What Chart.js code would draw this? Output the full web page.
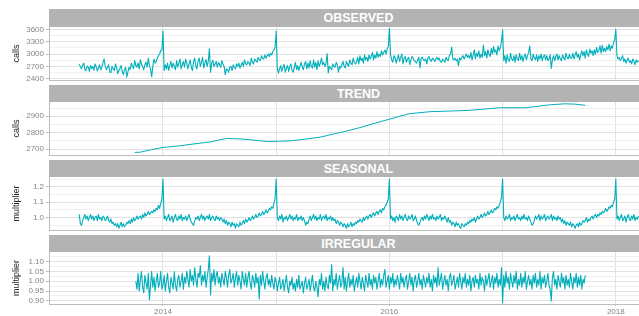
<!DOCTYPE html>
<html>
<head>
<meta charset="utf-8">
<script src="https://cdn.jsdelivr.net/npm/chart.js@4/dist/chart.umd.min.js"></script>
<style>
  body { margin: 0; overflow: hidden; background: #fff; }
  #wrap { position: relative; width: 668px; height: 316px; }
  .strip {
    position: absolute; left: 49px; width: 619px; height: 17px;
    background: #b3b3b3; color: #fff; text-align: center;
    font: bold 12.5px 'Liberation Sans', Arial, sans-serif; line-height: 18px;
  }
  canvas { position: absolute; left: 0; }
</style>
</head>
<body>
<div id="wrap">
  <div class="strip" style="top:9px;height:18px;line-height:19px">OBSERVED</div>
  <canvas id="obs" width="668" height="54" style="top:27px"></canvas>
  <div class="strip" style="top:85px">TREND</div>
  <canvas id="trend" width="668" height="54" style="top:102px"></canvas>
  <div class="strip" style="top:160px">SEASONAL</div>
  <canvas id="seas" width="668" height="54" style="top:177px"></canvas>
  <div class="strip" style="top:235px">IRREGULAR</div>
  <canvas id="irr" width="668" height="66" style="top:252px"></canvas>
</div>
<script>
// time axis: decimal years, one value every 1/100 year
const obsStart = 2013.26;
const irrStart = 2013.76;
const step = 0.01;
const yearLines = [2013, 2014, 2015, 2016, 2017, 2018];
const yearLabels = [2014, 2016, 2018];

const observed = [
  // 2013
  2760, 2700, 2640, 2730, 2780, 2620, 2600, 2710, 2680, 2580,
  2720, 2650, 2700, 2610, 2760, 2690, 2590, 2660, 2740, 2620,
  2680, 2790, 2880, 2700, 2620, 2680, 2740, 2560, 2550, 2700,
  2640, 2600, 2760, 2680, 2520, 2600, 2650, 2720, 2580, 2500,
  2620, 2680, 2440, 2560, 2680, 2620, 2780, 2700, 2650, 2840,
  2720, 2680, 2780, 2640, 2860, 2760, 2700, 2620, 2740, 2800,
  2680, 2900, 2720, 2640, 2450, 2700, 2880, 2780, 2820, 2900,
  2960, 3000, 3080, 3100,
  3560,
  // 2014
  2600, 2740, 2640, 2780, 2600, 2720, 2820, 2660, 2780, 2700,
  2620, 2840, 2680, 2780, 2880, 2640, 2740, 2820, 2680, 2880,
  2780, 2640, 2760, 2860, 2680, 2600, 2820, 2900, 2700, 2640,
  2840, 2900, 2700, 2800, 2920, 2660, 2780, 2870, 2700, 2820,
  3130, 2560, 2780, 2850, 2700, 2760, 2820, 2680, 2800, 2740,
  2680, 2840, 2760, 2700, 2500, 2640, 2620, 2560, 2680, 2700,
  2600, 2740, 2680, 2640, 2760, 2700, 2780, 2660, 2720, 2800,
  2700, 2860, 2760, 2740, 2820, 2780, 2720, 2900, 2800, 2760,
  2880, 2840, 2800, 2920, 2860, 2840, 2960, 2900, 2880, 2980,
  2900, 2960, 3000, 2940, 3020, 2980, 3060, 3100, 3150,
  3560,
  // 2015
  2640, 2540, 2640, 2720, 2580, 2680, 2750, 2560, 2660, 2720,
  2580, 2700, 2760, 2600, 2560, 2680, 2800, 2620, 2720, 2600,
  2700, 2800, 2680, 2620, 2760, 2820, 2640, 2780, 2660, 2840,
  2700, 2660, 2860, 2680, 2800, 2620, 2840, 2700, 2780, 2900,
  2740, 2800, 2700, 2760, 3010, 2540, 2700, 2660, 2620, 2760,
  2700, 2680, 2800, 2740, 2560, 2700, 2660, 2740, 2820, 2700,
  2660, 2820, 2760, 2700, 2860, 2780, 2740, 2900, 2800, 2760,
  2800, 2920, 2760, 2960, 2840, 2900, 2780, 2980, 2860, 2920,
  2820, 2980, 2880, 2940, 3040, 2860, 2980, 2900, 3060, 2920,
  3000, 2940, 3080, 2980, 3040, 3100, 3000, 3120, 3180,
  3625,
  // 2016
  2980, 2860, 2800, 2960, 2920, 2780, 2880, 2980, 2820, 2920,
  3000, 2760, 2900, 2940, 2800, 2880, 2920, 2740, 2860, 2940,
  2900, 2840, 2820, 2780, 2860, 2920, 2660, 2900, 2920, 2860,
  2840, 2880, 2760, 2900, 2940, 2860, 2820, 2900, 2880, 2820,
  2880, 2920, 2860, 2900, 2820, 2800, 2880, 2840, 2800, 2920,
  2860, 2840, 2960, 3000, 3170, 2880, 2860, 2900, 2840, 2880,
  2720, 2900, 2860, 2920, 2960, 2880, 2940, 3000, 2920, 2960,
  2900, 3040, 2860, 2980, 3100, 2880, 3020, 2940, 3080, 2900,
  3000, 2920, 3220, 2960, 3060, 2900, 3100, 3000, 2940, 3140,
  3000, 3180, 3040, 3100, 2980, 3200, 3080, 3160, 3300,
  3580,
  // 2017
  2840, 2960, 2780, 2980, 2860, 2820, 3020, 2880, 2840, 2960,
  2800, 2980, 2880, 2840, 3020, 2860, 2960, 2820, 2940, 3000,
  2860, 2960, 3040, 3200, 2880, 2840, 3000, 2900, 2860, 2980,
  2820, 2960, 2880, 3000, 2840, 2940, 2980, 2860, 2960, 2840,
  2880, 2980, 2650, 2860, 2960, 2840, 2940, 3000, 2860, 2960,
  2880, 2840, 2980, 2900, 2860, 3020, 2920, 2880, 3000, 2900,
  2900, 3020, 2880, 2980, 3060, 2920, 3000, 2860, 2980, 3080,
  2960, 3060, 2900, 3100, 3000, 2940, 3120, 3020, 3080, 2960,
  3100, 3000, 3160, 3040, 3080, 3200, 3020, 3215, 3060, 3140,
  3060, 3180, 3100, 3240, 3080, 3200, 3140, 3280, 3350,
  3600,
  // 2018
  2960, 2880, 2920, 2840, 2900, 2960, 2820, 2880, 2780, 2860,
  2900, 2800, 2840, 2760, 2880, 2820, 2740, 2860, 2800, 2840
];

const trendYears = [2013.75, 2013.80, 2013.90, 2014.00, 2014.15, 2014.28, 2014.42, 2014.56, 2014.68,
  2014.77, 2014.93, 2015.03, 2015.12, 2015.21, 2015.39, 2015.50, 2015.61, 2015.74, 2015.92, 2016.00,
  2016.09, 2016.18, 2016.36, 2016.54, 2016.71, 2016.84, 2016.98, 2017.20, 2017.42, 2017.55, 2017.64, 2017.73];
const trendValues = [2680, 2681, 2697, 2710, 2720, 2732, 2744, 2765, 2762,
  2757, 2746, 2748, 2750, 2757, 2773, 2791, 2808, 2831, 2867, 2882,
  2900, 2916, 2928, 2932, 2936, 2944, 2952, 2952, 2970, 2976, 2974, 2967];

const seasonal = [
  // 2013 (from April)
  1.02, 0.96, 0.95, 0.98,
  1.00, 1.02, 0.99, 1.01, 0.98, 1.00, 1.02, 0.99, 1.01, 0.98,
  1.00, 1.01, 0.98, 1.02, 0.99, 1.00, 0.98, 1.01, 1.00, 0.98,
  0.99, 1.01, 0.98, 0.97, 0.99, 0.96, 0.97, 0.95, 0.96, 0.94,
  0.96, 0.93, 0.95, 0.97, 0.94, 0.96, 0.94, 0.95, 0.97, 0.96,
  0.98, 0.96, 0.99, 0.97, 1.00, 0.98, 0.99, 1.01, 0.99, 1.00,
  1.01, 0.99, 1.02, 1.00, 1.03, 1.01, 1.02, 1.04, 1.02, 1.03,
  1.04, 1.03, 1.05, 1.04, 1.06, 1.05, 1.08, 1.06, 1.09, 1.12,
  // 2014
  1.25, 0.99, 1.01, 0.98, 1.00, 1.02, 0.98, 0.99, 1.01, 0.97,
  1.00, 1.02, 0.99, 0.98, 1.01, 0.99, 1.02, 0.98, 1.00, 0.99,
  1.01, 0.98, 1.00, 1.02, 0.99, 0.97, 0.96, 0.95, 0.98, 1.00,
  0.99, 1.01, 0.98, 1.00, 1.02, 0.99, 1.01, 0.98, 1.00, 1.01,
  0.99, 1.02, 0.98, 1.00, 1.01, 0.99, 0.98, 1.01, 0.99, 1.00,
  0.98, 1.00, 0.99, 0.97, 0.99, 0.96, 0.98, 0.95, 0.97, 0.96,
  0.94, 0.97, 0.95, 0.96, 0.93, 0.96, 0.95, 0.94, 0.97, 0.95,
  0.96, 0.98, 0.96, 0.99, 0.97, 0.98, 1.00, 0.98, 0.99, 1.01,
  0.99, 1.00, 1.02, 1.00, 1.01, 1.03, 1.01, 1.02, 1.04, 1.02,
  1.03, 1.05, 1.03, 1.04, 1.06, 1.05, 1.07, 1.06, 1.09, 1.12,
  // 2015
  1.25, 1.00, 0.98, 1.01, 0.99, 1.02, 0.97, 1.00, 0.99, 1.01,
  0.98, 1.00, 1.02, 0.99, 1.01, 0.98, 1.00, 0.99, 1.02, 0.98,
  1.00, 0.99, 1.01, 0.98, 1.00, 0.98, 0.95, 0.97, 0.96, 0.99,
  1.01, 0.98, 1.00, 1.02, 0.99, 1.01, 0.98, 1.00, 0.99, 1.02,
  0.98, 1.00, 1.01, 0.99, 1.02, 0.98, 1.00, 0.99, 1.01, 0.98,
  1.00, 0.98, 0.99, 0.96, 0.98, 0.97, 0.95, 0.97, 0.96, 0.94,
  0.96, 0.95, 0.93, 0.96, 0.94, 0.95, 0.97, 0.94, 0.96, 0.95,
  0.97, 0.96, 0.98, 0.97, 0.99, 0.98, 0.97, 1.00, 0.98, 1.00,
  1.01, 0.99, 1.01, 1.02, 1.00, 1.02, 1.03, 1.01, 1.03, 1.04,
  1.02, 1.04, 1.05, 1.03, 1.06, 1.05, 1.07, 1.08, 1.10, 1.12,
  // 2016
  1.25, 0.99, 1.01, 0.98, 1.00, 0.97, 1.01, 1.00, 0.98, 1.02,
  0.99, 1.01, 0.98, 1.00, 1.02, 0.99, 0.98, 1.01, 0.99, 1.00,
  1.02, 0.98, 0.99, 1.01, 0.98, 0.96, 0.95, 0.97, 0.99, 1.00,
  0.98, 1.01, 0.99, 1.02, 1.00, 0.98, 1.01, 0.99, 1.02, 0.99,
  1.00, 0.98, 1.01, 0.99, 1.00, 1.02, 0.98, 1.00, 0.99, 1.01,
  0.99, 0.97, 1.00, 0.97, 0.98, 0.95, 0.97, 0.96, 0.94, 0.97,
  0.95, 0.96, 0.94, 0.93, 0.96, 0.95, 0.94, 0.96, 0.95, 0.97,
  0.96, 0.98, 0.97, 0.99, 0.98, 1.00, 0.97, 0.99, 1.01, 0.99,
  1.00, 1.02, 1.00, 1.01, 1.03, 1.01, 1.02, 1.04, 1.02, 1.03,
  1.05, 1.03, 1.04, 1.06, 1.05, 1.07, 1.06, 1.08, 1.10, 1.13,
  // 2017
  1.25, 1.00, 0.98, 1.01, 0.99, 1.00, 1.02, 0.98, 1.00, 0.99,
  1.01, 0.98, 1.00, 1.02, 0.99, 1.00, 0.98, 1.01, 0.99, 1.02,
  0.99, 1.00, 0.98, 1.01, 0.99, 0.97, 0.95, 0.96, 0.98, 1.01,
  0.99, 1.00, 1.02, 0.98, 1.01, 0.99, 1.00, 1.02, 0.98, 1.00,
  1.01, 0.99, 1.00, 1.02, 0.98, 1.01, 0.99, 1.00, 0.98, 1.01,
  0.99, 1.00, 0.97, 0.99, 0.96, 0.98, 0.95, 0.97, 0.96, 0.95,
  0.97, 0.94, 0.96, 0.95, 0.93, 0.95, 0.96, 0.94, 0.97, 0.95,
  0.96, 0.98, 0.97, 0.98, 1.00, 0.97, 0.99, 0.98, 1.00, 1.01,
  0.99, 1.01, 1.02, 1.00, 1.02, 1.01, 1.03, 1.02, 1.04, 1.03,
  1.04, 1.06, 1.04, 1.05, 1.07, 1.06, 1.08, 1.07, 1.10, 1.12,
  // 2018
  1.25, 0.99, 1.01, 0.98, 1.00, 1.02, 0.98, 0.99, 1.01, 0.97,
  1.00, 1.02, 0.99, 0.98, 1.01, 0.99, 1.02, 0.98, 1.00, 0.99, 1.01
];

const irregular = [
  1.00, 0.96, 1.04, 0.95, 1.01, 1.05, 0.97, 0.94, 1.03, 0.99,
  0.96, 1.04, 0.905, 0.98, 1.05, 0.97, 1.02, 0.95, 1.00, 1.04,
  0.97, 0.99, 1.05, 0.96, 0.98, 1.03, 0.95, 1.00, 1.04, 0.97,
  0.94, 1.02, 0.99, 0.96, 1.05, 0.98, 0.95, 1.01, 1.03, 0.97,
  1.00, 1.04, 0.96, 1.02, 0.99, 1.05, 1.01, 0.97, 1.06, 1.00,
  1.03, 0.98, 1.07, 1.01, 0.97, 1.04, 1.02, 1.08, 0.98, 1.03,
  1.00, 1.05, 0.97, 1.02, 1.06, 1.13, 0.93, 1.04, 1.00, 1.06,
  0.98, 1.03, 1.05, 0.99, 1.02, 0.97, 1.04, 1.01, 0.98, 1.05,
  1.02, 0.97, 1.03, 1.06, 0.99, 1.01, 1.04, 0.97, 1.02, 1.05,
  0.98, 1.03, 1.00, 0.96, 1.05, 1.01, 0.98, 1.04, 0.97, 1.02,
  1.05, 0.99, 0.96, 1.03, 1.01, 0.97, 1.04, 0.99, 1.02, 0.91,
  1.03, 0.98, 1.05, 1.00, 0.96, 1.02, 1.04, 0.98, 1.01, 0.97,
  1.03, 0.99, 0.96, 1.02, 1.00, 0.95, 0.99, 1.02, 0.96, 0.98,
  1.01, 0.95, 0.99, 1.03, 0.97, 0.94, 1.00, 0.98, 1.02, 0.96,
  0.99, 0.95, 1.01, 0.97, 1.03, 0.96, 0.98, 1.00, 0.94, 0.99,
  1.02, 0.96, 0.98, 1.01, 0.95, 0.99, 1.03, 0.97, 0.95, 1.00,
  0.97, 0.92, 1.01, 0.98, 1.04, 0.96, 1.00, 0.95, 1.02, 0.98,
  0.96, 1.03, 0.99, 1.085, 0.95, 1.01, 0.98, 1.04, 0.96, 1.00,
  1.03, 0.97, 0.99, 1.07, 0.96, 1.02, 0.95, 1.00, 1.04, 0.97,
  1.01, 0.98, 1.03, 0.95, 0.99, 1.02, 0.97, 1.04, 1.00, 0.96,
  1.02, 0.99, 0.95, 1.03, 1.00, 0.97, 1.04, 0.98, 1.01, 0.96,
  1.03, 0.99, 1.02, 0.96, 1.00, 1.04, 0.97, 1.01, 0.98, 1.03,
  1.06, 0.97, 1.00, 1.03, 0.96, 1.02, 0.99, 1.04, 0.97, 1.01,
  0.98, 1.03, 1.00, 0.96, 1.04, 0.99, 1.02, 0.97, 1.01, 1.03,
  0.96, 1.00, 1.04, 0.98, 1.02, 0.95, 1.01, 1.03, 0.97, 1.00,
  1.04, 0.98, 1.01, 0.96, 1.03, 1.00, 0.97, 1.02, 0.99, 1.04,
  0.97, 1.01, 0.95, 1.03, 0.99, 1.02, 0.97, 1.07, 0.98, 1.01,
  1.04, 0.96, 1.00, 1.03, 0.98, 1.01, 0.95, 1.02, 1.04, 0.98,
  1.00, 1.03, 0.96, 0.99, 1.02, 0.97, 1.04, 1.00, 0.96, 1.02,
  0.99, 1.04, 0.97, 1.01, 0.98, 1.03, 0.95, 1.00, 1.02, 0.97,
  1.03, 0.99, 1.01, 0.96, 1.04, 0.98, 1.02, 1.00, 0.95, 1.03,
  0.98, 1.01, 1.04, 0.97, 1.00, 1.03, 0.96, 1.02, 0.99, 1.04,
  0.97, 1.01, 0.98, 1.07, 0.89, 1.03, 0.97, 1.05, 0.99, 1.02,
  0.96, 1.04, 1.00, 0.97, 1.03, 0.99, 1.05, 0.96, 1.01, 0.98,
  1.04, 0.97, 1.02, 0.99, 1.05, 0.96, 1.00, 1.03, 0.98, 1.01,
  0.96, 1.03, 0.99, 1.04, 0.97, 1.01, 0.98, 1.05, 0.96, 1.02,
  0.99, 1.03, 0.97, 1.00, 1.04, 0.98, 0.96, 0.90, 1.02, 1.05,
  0.98, 1.01, 0.96, 1.03, 1.00, 0.97, 1.04, 0.99, 1.02, 0.96,
  1.03, 0.98, 1.01, 0.97, 1.04, 1.00, 0.96, 1.02, 0.99, 1.04,
  0.97, 1.02, 0.98, 1.03, 0.96, 1.01, 0.99, 1.03
];

// gridline values per panel (labelled majors, unlabelled minors)
const obsMajor = [2400, 2700, 3000, 3300, 3600];
const obsMinor = [2550, 2850, 3150, 3450];
const trendMajor = [2700, 2800, 2900];
const trendMinor = [2750, 2850, 2950];
const seasMajor = [1.0, 1.1, 1.2];
const seasMinor = [0.95, 1.05, 1.15, 1.25];
const irrMajor = [0.90, 0.95, 1.00, 1.05, 1.10];
const irrMinor = [0.925, 0.975, 1.025, 1.075, 1.125];

const lineColor = '#00AFBB';
const tickColor = '#858585';
const xMin = 2012.993, xMax = 2018.461;

Chart.defaults.font.family = "'Liberation Sans', Arial, sans-serif";

function toPoints(start, values) {
  return values.map((v, i) => ({ x: start + i * step, y: v }));
}

function buildPanel(p) {
  const all = p.major.concat(p.minor).sort((a, b) => a - b);
  const isMajor = v => p.major.some(m => Math.abs(m - v) < 1e-9);
  new Chart(document.getElementById(p.id), {
    type: 'line',
    data: {
      datasets: [{
        data: p.points,
        borderColor: lineColor,
        borderWidth: p.width,
        borderJoinStyle: 'round',
        pointRadius: 0,
        tension: 0,
        fill: false
      }]
    },
    options: {
      responsive: false,
      animation: false,
      events: [],
      layout: { padding: 0, autoPadding: false },
      plugins: { legend: { display: false }, tooltip: { enabled: false } },
      scales: {
        x: {
          type: 'linear', min: xMin, max: xMax,
          afterBuildTicks: s => { s.ticks = yearLines.map(v => ({ value: v })); },
          afterFit: s => { s.height = p.showX ? 14 : 1; s.paddingLeft = 0; s.paddingRight = 0; },
          ticks: {
            display: p.showX, autoSkip: false, maxRotation: 0, padding: 1,
            color: tickColor, font: { size: 8 },
            callback: v => yearLabels.includes(v) ? String(v) : ''
          },
          grid: {
            color: '#e2e2e2', drawTicks: p.showX, tickLength: 2,
            tickColor: ctx => (ctx.tick && yearLabels.includes(ctx.tick.value)) ? '#bdbdbd' : 'rgba(0,0,0,0)'
          },
          border: { display: true, color: '#bdbdbd' }
        },
        y: {
          min: p.min, max: p.max,
          afterBuildTicks: s => { s.ticks = all.map(v => ({ value: v })); },
          afterFit: s => { s.width = 49; s.paddingTop = 0; s.paddingBottom = 0; },
          ticks: {
            autoSkip: false, padding: 2, color: tickColor, font: { size: 8 },
            callback: v => isMajor(v) ? p.fmt(v) : ''
          },
          grid: {
            tickLength: 3,
            color: ctx => (ctx.tick && isMajor(ctx.tick.value)) ? '#e2e2e2' : '#efefef',
            tickColor: ctx => (ctx.tick && isMajor(ctx.tick.value)) ? '#bdbdbd' : 'rgba(0,0,0,0)'
          },
          border: { display: true, color: '#bdbdbd' },
          title: {
            display: true, text: p.yTitle, color: '#222',
            font: { size: 9 }, padding: { top: 11, bottom: 0 }
          }
        }
      }
    }
  });
}

const trendPoints = trendYears.map((x, i) => ({ x: x, y: trendValues[i] }));

buildPanel({ id: 'obs', points: toPoints(obsStart, observed), width: 1.1, min: 2370, max: 3656,
  major: obsMajor, minor: obsMinor, fmt: v => String(v), yTitle: 'calls', showX: false });
buildPanel({ id: 'trend', points: trendPoints, width: 1, min: 2664, max: 2987,
  major: trendMajor, minor: trendMinor, fmt: v => String(v), yTitle: 'calls', showX: false });
buildPanel({ id: 'seas', points: toPoints(obsStart, seasonal), width: 1.1, min: 0.919, max: 1.263,
  major: seasMajor, minor: seasMinor, fmt: v => v.toFixed(1), yTitle: 'multiplier', showX: false });
buildPanel({ id: 'irr', points: toPoints(irrStart, irregular), width: 1.1, min: 0.884, max: 1.149,
  major: irrMajor, minor: irrMinor, fmt: v => v.toFixed(2), yTitle: 'multiplier', showX: true });
</script>
</body>
</html>
